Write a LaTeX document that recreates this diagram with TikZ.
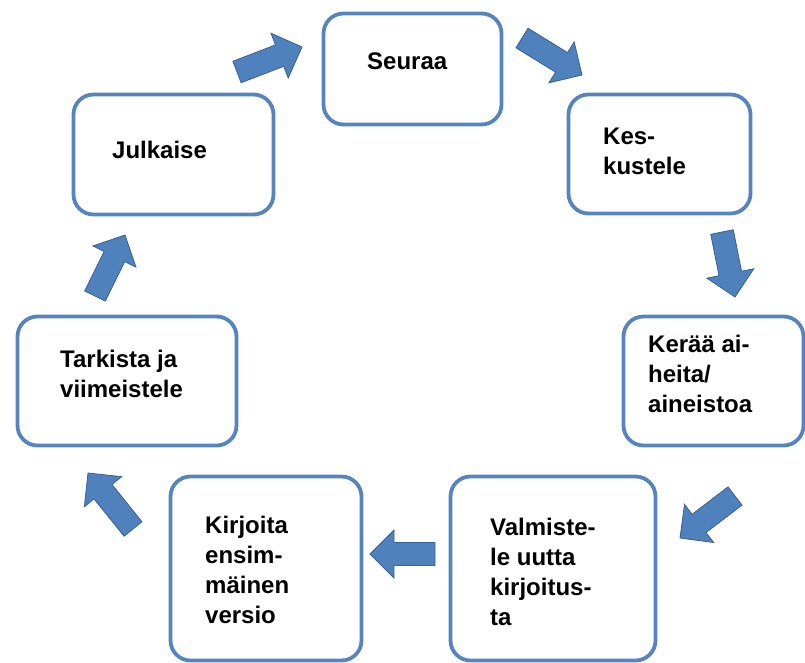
\documentclass[tikz,border=0pt]{standalone}
\usepackage{fontspec}
\setmainfont{Liberation Sans}
\usepackage{tikz}
\usetikzlibrary{calc}
\usetikzlibrary{positioning}
\definecolor{boxblue}{HTML}{5584BF}
\definecolor{arrowblue}{HTML}{4F81BD}
\definecolor{arrowedge}{HTML}{3A6194}
% block arrow from tail #1 to tip #2
\newcommand{\BlockArrow}[2]{%
\path ($(#2)!24pt!(#1)$) coordinate (#2-h);
\draw[MyArrows] ($(#1)!11.5pt!90:(#2)$) -- ($(#2-h)!11.5pt!90:(#2)$) -- ($(#2-h)!24pt!90:(#2)$) -- (#2)
 -- ($(#2-h)!24pt!-90:(#2)$) -- ($(#2-h)!11.5pt!-90:(#2)$) -- ($(#1)!11.5pt!-90:(#2)$) -- cycle;}

\begin{document}
\begin{tikzpicture}[
x=1pt,y=-1pt,
MyBoxes/.style={draw=boxblue,fill=white,line width=3.8pt,rounded corners=20pt,inner sep=0pt},
MyArrows/.style={fill=arrowblue,draw=arrowedge,line width=0.8pt,line join=miter},
MyLabels/.style={anchor=north west,inner sep=0pt,align=left,
  font=\fontsize{24}{30}\selectfont\bfseries}
]
\useasboundingbox (0,0) rectangle (805,662);

% boxes
\node[MyBoxes,minimum width=178pt,minimum height=111pt] (seuraa) at (412.5,69) {};
\node[MyBoxes,minimum width=182pt,minimum height=119pt] (keskustele) at (659.5,154) {};
\node[MyBoxes,minimum width=180pt,minimum height=129pt] (keraa) at (713.5,381) {};
\node[MyBoxes,minimum width=205pt,minimum height=184pt] (valmistele) at (553,568.5) {};
\node[MyBoxes,minimum width=191pt,minimum height=184pt] (kirjoita) at (266,568.5) {};
\node[MyBoxes,minimum width=219pt,minimum height=129pt] (tarkista) at (127,381) {};
\node[MyBoxes,minimum width=200pt,minimum height=120pt] (julkaise) at (173.5,154.5) {};

% texts
\node[MyLabels] (seuraa-t) at (367,53) {Seuraa};
\node[MyLabels] (keskustele-t) at (603,128) {Kes-\\kustele};
\node[MyLabels] (keraa-t) at (648,335) {Kerää ai-\\heita/\\aineistoa};
\node[MyLabels] (valmistele-t) at (490,518) {Valmiste-\\le uutta\\kirjoitus-\\ta};
\node[MyLabels] (kirjoita-t) at (205,516) {Kirjoita\\ensim-\\mäinen\\versio};
\node[MyLabels] (tarkista-t) at (60,350) {Tarkista ja\\viimeistele};
\node[MyLabels] (julkaise-t) at (112,141) {Julkaise};

% arrow ends
\coordinate (a1) at (237,72);  \coordinate (b1) at (302,47);
\coordinate (a2) at (522,38);  \coordinate (b2) at (582,75);
\coordinate (a3) at (722,232); \coordinate (b3) at (735,297);
\coordinate (a4) at (735,496); \coordinate (b4) at (680,538);
\coordinate (a5) at (435,554); \coordinate (b5) at (370,554);
\coordinate (a6) at (133,529); \coordinate (b6) at (88,473);
\coordinate (a7) at (95,296);  \coordinate (b7) at (125,235);

\BlockArrow{a1}{b1}
\BlockArrow{a2}{b2}
\BlockArrow{a3}{b3}
\BlockArrow{a4}{b4}
\BlockArrow{a5}{b5}
\BlockArrow{a6}{b6}
\BlockArrow{a7}{b7}

\end{tikzpicture}
\end{document}
